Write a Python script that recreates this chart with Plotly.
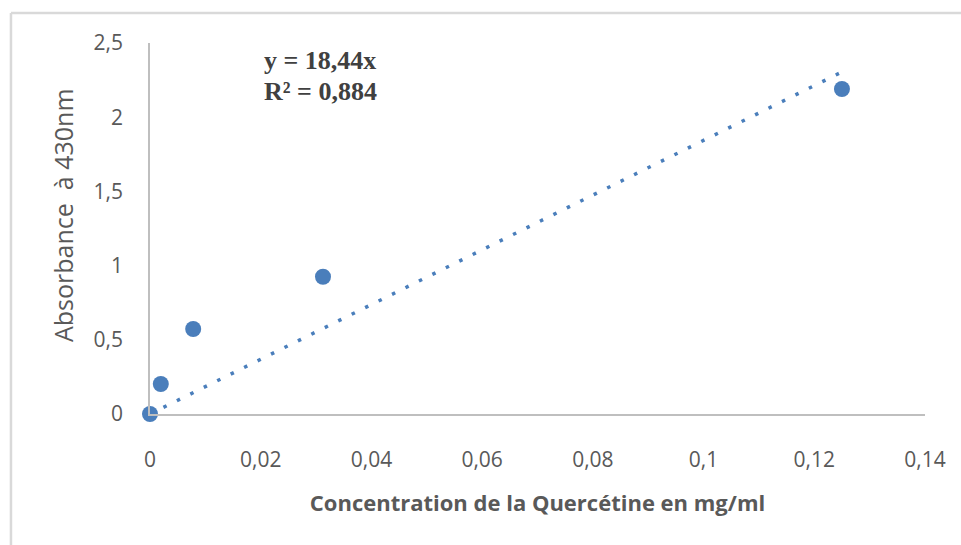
import plotly.graph_objects as go

conc = [0, 0.00195, 0.0078, 0.03125, 0.125]
absorb = [0, 0.202, 0.573, 0.925, 2.19]
slope = 18.44
trend_x = [0, 0.125]
trend_y = [slope * v for v in trend_x]

x_ticks = [0, 0.02, 0.04, 0.06, 0.08, 0.1, 0.12, 0.14]
x_labels = ["0", "0,02", "0,04", "0,06", "0,08", "0,1", "0,12", "0,14"]
y_ticks = [0, 0.5, 1, 1.5, 2, 2.5]
y_labels = ["0", "0,5", "1", "1,5", "2", "2,5"]

blue = "#4a7ebb"
fig = go.Figure()
fig.add_trace(go.Scatter(x=trend_x, y=trend_y, mode="lines",
                         line=dict(color=blue, width=3.5, dash="3.5px,11.5px"),
                         hoverinfo="skip", showlegend=False, cliponaxis=False))
fig.add_trace(go.Scatter(x=conc, y=absorb, mode="markers",
                         marker=dict(color=blue, size=16),
                         showlegend=False, cliponaxis=False))

font = "'Open Sans', sans-serif"
serif = "'Liberation Serif', 'Times New Roman', serif"
fig.update_layout(
    width=961, height=545,
    margin=dict(l=150, r=36, t=43, b=131),
    paper_bgcolor="white", plot_bgcolor="white",
    font=dict(family=font, color="#595959", size=20),
    xaxis=dict(range=[0, 0.14], tickvals=x_ticks, ticktext=x_labels,
               showgrid=False, zeroline=False, showline=True,
               linecolor="#bfbfbf", linewidth=1.5, ticks="",
               ticklabelstandoff=26, tickfont=dict(size=21),
               title=dict(text="<b>Concentration de la Quercétine en mg/ml</b>",
                          font=dict(size=22, color="#595959"), standoff=24)),
    yaxis=dict(range=[0, 2.5], tickvals=y_ticks, ticktext=y_labels,
               showgrid=False, zeroline=False, showline=True,
               linecolor="#bfbfbf", linewidth=1.5, ticks="",
               ticklabelstandoff=21, tickfont=dict(size=21)),
    shapes=[
        dict(type="line", xref="paper", yref="paper", x0=-0.1794, x1=1.06,
             y0=1.0809, y1=1.0809, line=dict(color="#d9d9d9", width=2.5)),
        dict(type="line", xref="paper", yref="paper", x0=-0.1794, x1=-0.1794,
             y0=1.0809, y1=-0.4, line=dict(color="#d9d9d9", width=2.5)),
    ],
    annotations=[
        dict(xref="paper", yref="paper", x=(63 - 150) / 775, y=(414 - 215) / 371,
             xanchor="center", yanchor="middle", showarrow=False, textangle=-90,
             text="Absorbance  à 430nm",
             font=dict(family=font, size=25, color="#595959")),
        dict(xref="paper", yref="paper", x=(262 - 150) / 775, y=(414 - 60) / 371,
             xanchor="left", yanchor="middle", showarrow=False,
             text="<b>y = 18,44x</b>",
             font=dict(family=serif, size=26, color="#404040")),
        dict(xref="paper", yref="paper", x=(262 - 150) / 775, y=(414 - 91) / 371,
             xanchor="left", yanchor="middle", showarrow=False,
             text="<b>R² = 0,884</b>",
             font=dict(family=serif, size=26, color="#404040")),
    ],
)
fig.write_html("out.html")
